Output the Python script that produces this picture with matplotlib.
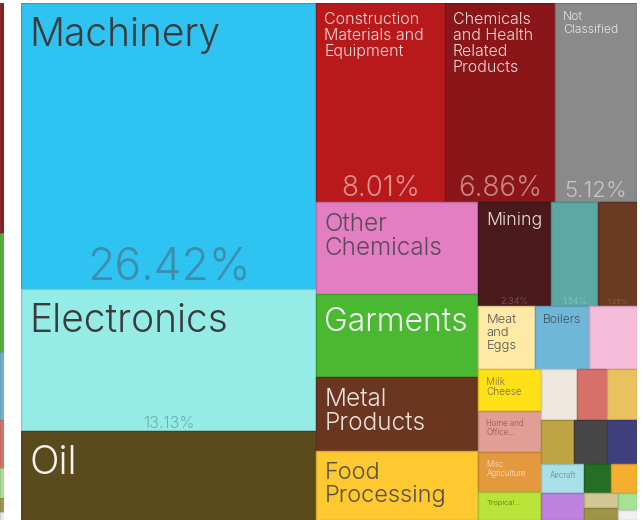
import numpy as np
import matplotlib
matplotlib.use("Agg")
import matplotlib.pyplot as plt
from matplotlib.patches import Rectangle
from matplotlib.colors import to_rgb

plt.rcParams["font.family"] = ["Inter", "DejaVu Sans"]
plt.rcParams["font.weight"] = 300

# ---- data: share of exports (%) ----
big_labels = ["Machinery", "Electronics", "Oil"]
big_values = [26.42, 13.13, 8.20]

top_labels = ["Construction\nMaterials and\nEquipment",
              "Chemicals\nand Health\nRelated\nProducts",
              "Not\nClassified"]
top_values = [8.01, 6.86, 5.12]

mid_labels = ["Other\nChemicals", "Garments", "Metal\nProducts", "Food\nProcessing"]
mid_values = [4.66, 4.20, 3.75, 3.49]

mining_labels = ["Mining", "", ""]
mining_values = [2.34, 1.54, 1.25]

meat_labels = ["Meat\nand\nEggs", "Boilers", ""]
meat_values = [1.12, 1.06, 0.95]

small_labels = ["Milk\nCheese", "Home and\nOffice...", "Misc\nAgriculture", "Tropical..."]
small_values = [0.83, 0.81, 0.79, 0.55]

grid_row1_values = [0.57, 0.48, 0.48]
grid_row2_values = [0.45, 0.45, 0.41]
grid_row3_labels = ["Aircraft", "", ""]
grid_row3_values = [0.39, 0.24, 0.24]
grid_row4_values = [0.36]
grid_stack1_values = [0.16, 0.13]
grid_stack2_values = [0.10, 0.06]

# neighbouring chart cut off at the left edge
strip_values = [229, 119, 67, 48, 30, 14, 8]

# which cells show their percentage
big_show_pct = [True, True, False]
top_show_pct = [True, True, True]
mining_show_pct = [True, True, True]

# ---- styles ----
big_colors = ["#2EC3F0", "#95ECE6", "#5B4A1B"]
big_sizes = [28, 28, 28]
big_tcolors = ["#3B3B3B", "#3B3B3B", "#F2F2F2"]
big_psizes = [32, 11.5, 11.5]
big_pcolors = ["#3F8CAB", "#6AAFAA", "#FFFFFF"]

top_colors = ["#B8191B", "#8A1619", "#8A8A8A"]
top_sizes = [11.5, 11.5, 8.8]
top_tcolors = ["#F5DCDC", "#F5DCDC", "#E6E6E6"]
top_psizes = [20, 20, 16]
top_pcolors = ["#E48D8D", "#C98383", "#C6C6C6"]

mid_colors = ["#E37EC3", "#4BB832", "#6B3620", "#FEC831"]
mid_sizes = [17.5, 23, 17.5, 17]
mid_tcolors = ["#5A4A58", "#F2F2F2", "#EAE2DE", "#555044"]

mining_colors = ["#4A1A1B", "#5BA8A6", "#6A3A22"]
mining_sizes = [12.8, 8, 8]
mining_tcolors = ["#E8DCDC", "#FFFFFF", "#FFFFFF"]
mining_psizes = [6.6, 6.3, 5.2]
mining_pcolors = ["#7D5C5C", "#8CC7C5", "#8F6A57"]

meat_colors = ["#FFE9A6", "#6FB7D8", "#F6BBD8"]
meat_sizes = [9.3, 8.8, 8]
meat_tcolors = ["#555555", "#3E5060", "#555555"]

small_colors = ["#FFE117", "#E09E94", "#E5993F", "#BBE43A"]
small_sizes = [7.2, 5.7, 5.7, 5.4]
small_tcolors = ["#7A7050", "#8A5A5A", "#F7E3C8", "#5A7020"]

grid_row1_colors = ["#EEE7DF", "#D7706A", "#E9C260"]
grid_row2_colors = ["#BFA443", "#474747", "#3F3F7B"]
grid_row3_colors = ["#A8E0E8", "#266D26", "#F6AE2E"]
grid_row4_colors = ["#BE81DD"]
grid_stack1_colors = ["#D3C795", "#9E9646"]
grid_stack2_colors = ["#A6E291", "#F0F0F0"]

strip_colors = ["#8E1B1E", "#4BB832", "#6CB1D2", "#D9706A", "#A6E291", "#9E9646", "#E9E9E9"]

W, H = 616, 517  # layout units = pixels of the plotting area


def split(values, box, horizontal):
    x, y, w, h = box
    frac = np.cumsum([0.0] + list(values)) / np.sum(values)
    if horizontal:
        return [(x + w * a, y, w * (b - a), h) for a, b in zip(frac[:-1], frac[1:])]
    return [(x, y + h * a, w, h * (b - a)) for a, b in zip(frac[:-1], frac[1:])]


def darker(c, f=0.85):
    r, g, b = to_rgb(c)
    return (r * f, g * f, b * f)


def draw(ax, rects, colors, labels=None, sizes=None, tcolors=None,
         values=None, show=None, psizes=None, pcolors=None):
    for i, (x, y, w, h) in enumerate(rects):
        ax.add_patch(Rectangle((x, y), w, h, facecolor=colors[i],
                               edgecolor=darker(colors[i]), lw=1))
        if labels and labels[i]:
            em = sizes[i] * 100 / 72
            ax.text(x + 8, y + 6 + 0.2 * em, labels[i], fontsize=sizes[i],
                    color=tcolors[i], ha="left", va="top", linespacing=1.07)
        if show and show[i]:
            em = psizes[i] * 100 / 72
            ax.text(x + w / 2, y + h - 0.22 * em, f"{values[i]:.2f}%",
                    fontsize=psizes[i], color=pcolors[i], ha="center", va="baseline")


fig = plt.figure(figsize=(6.43, 5.2), dpi=100)
ax = fig.add_axes([21 / 643, 0, W / 643, H / 520])
ax.set_xlim(0, W)
ax.set_ylim(H, 0)
ax.axis("off")

# sums for the nested slicing
s_big = sum(big_values)
s_top = sum(top_values)
s_mid = sum(mid_values)
s_mining = sum(mining_values)
s_meat = sum(meat_values)
s_small = sum(small_values)
grid_rows = [grid_row1_values, grid_row2_values, grid_row3_values,
             grid_row4_values + [sum(grid_stack1_values), sum(grid_stack2_values)]]
s_grid_rows = [sum(r) for r in grid_rows]
s_rest = s_small + sum(s_grid_rows)
s_right = s_mining + s_meat + s_rest
s_bottom = s_mid + s_right

col_a, col_b = split([s_big, s_top + s_bottom], (0, 0, W, H), True)
draw(ax, split(big_values, col_a, False), big_colors, big_labels, big_sizes,
     big_tcolors, big_values, big_show_pct, big_psizes, big_pcolors)

top_box, bottom_box = split([s_top, s_bottom], col_b, False)
draw(ax, split(top_values, top_box, True), top_colors, top_labels, top_sizes,
     top_tcolors, top_values, top_show_pct, top_psizes, top_pcolors)

mid_box, right_box = split([s_mid, s_right], bottom_box, True)
draw(ax, split(mid_values, mid_box, False), mid_colors, mid_labels, mid_sizes, mid_tcolors)

mining_box, meat_box, rest_box = split([s_mining, s_meat, s_rest], right_box, False)
draw(ax, split(mining_values, mining_box, True), mining_colors, mining_labels,
     mining_sizes, mining_tcolors, mining_values, mining_show_pct,
     mining_psizes, mining_pcolors)
draw(ax, split(meat_values, meat_box, True), meat_colors, meat_labels,
     meat_sizes, meat_tcolors)

small_box, grid_box = split([s_small, sum(s_grid_rows)], rest_box, True)
draw(ax, split(small_values, small_box, False), small_colors, small_labels,
     small_sizes, small_tcolors)

row_boxes = split(s_grid_rows, grid_box, False)
draw(ax, split(grid_row1_values, row_boxes[0], True), grid_row1_colors)
draw(ax, split(grid_row2_values, row_boxes[1], True), grid_row2_colors)
draw(ax, split(grid_row3_values, row_boxes[2], True), grid_row3_colors,
     grid_row3_labels, [5.7, 5, 5], ["#6A8890", "#FFF", "#FFF"])
row4 = split(grid_rows[3], row_boxes[3], True)
draw(ax, row4[:1], grid_row4_colors)
draw(ax, split(grid_stack1_values, row4[1], False), grid_stack1_colors)
draw(ax, split(grid_stack2_values, row4[2], False), grid_stack2_colors)

# sliver of the neighbouring treemap
ax2 = fig.add_axes([0, 0, 4 / 643, H / 520])
ax2.set_xlim(0, 4)
ax2.set_ylim(H, 0)
ax2.axis("off")
for (x, y, w, h), c in zip(split(strip_values, (0, 0, 4, H), False), strip_colors):
    ax2.add_patch(Rectangle((x, y), w, h, facecolor=c, edgecolor=darker(c), lw=0.6))

fig.savefig("out.png", dpi=100)
